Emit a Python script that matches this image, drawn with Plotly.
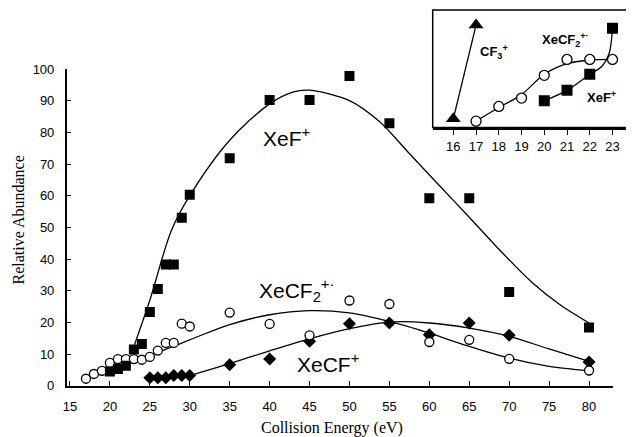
import plotly.graph_objects as go

W, H = 634, 437
OFF = 8  # page body margin offset (screen px)

# ---------------- main chart data ----------------
xef_x = [20, 21, 22, 23, 24, 25, 26, 27, 28, 29, 30, 35, 40, 45, 50, 55, 60, 65, 70, 80]
xef_y = [4.5, 5.3, 6.3, 11.4, 13.2, 23.3, 30.5, 38.3, 38.3, 53, 60.3, 71.8, 90.2, 90.2, 97.8, 82.9, 59.2, 59.2, 29.6, 18.4]

xecf2_x = [17, 18, 19, 20, 21, 22, 23, 24, 25, 26, 27, 28, 29, 30, 35, 40, 45, 50, 55, 60, 65, 70, 80]
xecf2_y = [2.2, 3.7, 4.7, 7.2, 8.4, 8.4, 8.4, 8.2, 9.1, 11.1, 13.5, 13.5, 19.6, 18.7, 23.1, 19.5, 15.9, 26.9, 25.8, 13.8, 14.5, 8.5, 4.8]

xecf_x = [25, 26, 27, 28, 29, 30, 35, 40, 45, 50, 55, 60, 65, 70, 80]
xecf_y = [2.5, 2.5, 2.5, 3.2, 3.2, 3.2, 6.6, 8.4, 14.0, 19.6, 19.8, 16.1, 19.8, 15.9, 7.5]

# fitted curves
xef_fit_x = [23, 25, 27.7, 30, 35, 40, 43, 45, 50, 53.75, 57.5, 61.25, 65, 68.75, 72.9, 76.5, 80]
xef_fit_y = [12.4, 27, 49, 60, 77.5, 89, 92.8, 93.3, 90, 83.4, 73.3, 63.2, 53.2, 43, 32.5, 25.3, 19.8]

xecf2_fit_x = [17, 20, 23, 26, 30, 35, 40, 45, 50, 55, 60, 65, 70, 75, 80]
xecf2_fit_y = [2.3, 5, 7.7, 10.5, 14.5, 19.3, 22.4, 23.7, 23.0, 20.3, 16.6, 12.4, 8.7, 6.1, 4.7]

xecf_fit_x = [30, 35, 40, 45, 50, 55, 60, 65, 70, 75, 80]
xecf_fit_y = [3.2, 7, 11, 14.8, 18, 20.1, 19.8, 18.2, 15.6, 11.6, 7.7]

x_ticks = [15, 20, 25, 30, 35, 40, 45, 50, 55, 60, 65, 70, 75, 80]
y_ticks = [0, 10, 20, 30, 40, 50, 60, 70, 80, 90, 100]

# ---------------- inset data ----------------
in_cf3_x = [16, 17]
in_cf3_y = [7.4, 87.2]
in_xecf2_x = [17, 18, 19, 20, 21, 22, 23]
in_xecf2_y = [5.4, 17.9, 25, 44.4, 57.9, 57.9, 57.9]
in_xef_x = [20, 21, 22, 23]
in_xef_y = [22.8, 31.6, 45.3, 84.4]
in_xecf2_fit_x = [17, 18, 19, 20, 21, 22, 23]
in_xecf2_fit_y = [5.4, 17, 28, 45.3, 54.4, 57.3, 57.9]
in_xef_fit_x = [20, 21, 22, 22.5, 22.85, 23]
in_xef_fit_y = [22.8, 31.6, 45.3, 51.5, 63, 84.4]
in_ticks = [16, 17, 18, 19, 20, 21, 22, 23]

FONT = "Arial, Liberation Sans, sans-serif"
SERIF = "Times New Roman, Liberation Serif, serif"

fig = go.Figure()

line_style = dict(color="black", width=1.3, shape="spline", smoothing=0.9)

# main fitted lines
fig.add_trace(go.Scatter(x=xef_fit_x, y=xef_fit_y, mode="lines", line=line_style, xaxis="x", yaxis="y"))
fig.add_trace(go.Scatter(x=xecf2_fit_x, y=xecf2_fit_y, mode="lines", line=line_style, xaxis="x", yaxis="y"))
fig.add_trace(go.Scatter(x=xecf_fit_x, y=xecf_fit_y, mode="lines", line=line_style, xaxis="x", yaxis="y"))

# main markers
fig.add_trace(go.Scatter(x=xecf_x, y=xecf_y, mode="markers",
                         marker=dict(symbol="diamond", size=10, color="black"), xaxis="x", yaxis="y"))
fig.add_trace(go.Scatter(x=xecf2_x, y=xecf2_y, mode="markers",
                         marker=dict(symbol="circle", size=9, color="white", line=dict(color="black", width=1.3)),
                         xaxis="x", yaxis="y"))
fig.add_trace(go.Scatter(x=xef_x, y=xef_y, mode="markers",
                         marker=dict(symbol="square", size=10, color="black"), xaxis="x", yaxis="y"))

# inset lines
fig.add_trace(go.Scatter(x=in_cf3_x, y=in_cf3_y, mode="lines", line=dict(color="black", width=1.3),
                         xaxis="x2", yaxis="y2"))
fig.add_trace(go.Scatter(x=in_xecf2_fit_x, y=in_xecf2_fit_y, mode="lines", line=line_style, xaxis="x2", yaxis="y2"))
fig.add_trace(go.Scatter(x=in_xef_fit_x, y=in_xef_fit_y, mode="lines", line=line_style, xaxis="x2", yaxis="y2"))
# inset markers
fig.add_trace(go.Scatter(x=in_cf3_x, y=in_cf3_y, mode="markers",
                         marker=dict(symbol="triangle-up", size=13, color="black"), xaxis="x2", yaxis="y2"))
fig.add_trace(go.Scatter(x=in_xecf2_x, y=in_xecf2_y, mode="markers",
                         marker=dict(symbol="circle", size=10, color="white", line=dict(color="black", width=1.3)),
                         xaxis="x2", yaxis="y2"))
fig.add_trace(go.Scatter(x=in_xef_x, y=in_xef_y, mode="markers",
                         marker=dict(symbol="square", size=11, color="black"), xaxis="x2", yaxis="y2"))

def px_x(p):
    return (p - OFF) / W

def px_y(p):
    return 1 - (p - OFF) / H

axis_common = dict(showgrid=False, zeroline=False, showline=True, linecolor="black", linewidth=1.5,
                   automargin=False, tickcolor="black", tickfont=dict(family=FONT, size=13, color="black"))

fig.update_layout(
    width=W, height=H,
    margin=dict(l=0, r=0, t=0, b=0, pad=0, autoexpand=False),
    paper_bgcolor="white", plot_bgcolor="rgba(0,0,0,0)",
    showlegend=False,
    xaxis=dict(domain=[px_x(66.7), px_x(613)], range=[14.59, 83.0], tickvals=x_ticks,
               ticks="inside", ticklen=5, tickwidth=1.3, anchor="y", ticklabelstandoff=8, **axis_common),
    yaxis=dict(domain=[px_y(385.7), px_y(69)], range=[0, 100], tickvals=y_ticks,
               ticks="inside", ticklen=5, tickwidth=1.3, anchor="x", ticklabelstandoff=8, **axis_common),
    xaxis2=dict(domain=[px_x(432.7), px_x(634)], range=[15.094, 23.945], tickvals=in_ticks,
                ticks="outside", ticklen=6, tickwidth=1.3, anchor="y2", **axis_common),
    yaxis2=dict(domain=[px_y(127.5), px_y(10)], range=[0, 100], showticklabels=False, ticks="",
                showgrid=False, zeroline=False, showline=False, automargin=False, anchor="x2"),
)

fig.add_shape(type="rect", xref="paper", yref="paper",
              x0=px_x(432.7), x1=1.02, y0=px_y(127.5), y1=px_y(10),
              line=dict(color="black", width=1.5), fillcolor="rgba(0,0,0,0)")

def label(text, cx, cy, size, bold=False, family=FONT, angle=0):
    t = f"<b>{text}</b>" if bold else text
    fig.add_annotation(text=t, x=px_x(cx), y=px_y(cy), xref="paper", yref="paper",
                       showarrow=False, xanchor="center", yanchor="middle", textangle=angle,
                       font=dict(family=family, size=size, color="black"))

label("XeF<sup>+</sup>", 286, 137, 21)
label("XeCF<sub>2</sub><sup>+·</sup>", 296, 290, 21)
label("XeCF<sup>+</sup>", 328, 363, 21)

label("CF<sub>3</sub><sup>+</sup>", 494, 52, 13, bold=True)
label("XeCF<sub>2</sub><sup>+·</sup>", 565, 40, 13, bold=True)
label("XeF<sup>+</sup>", 601, 97, 13, bold=True)

label("Relative Abundance", 17.5, 220, 16, family=SERIF, angle=-90)
label("Collision Energy (eV)", 332, 428, 16, family=SERIF)

fig.write_html("out.html")
